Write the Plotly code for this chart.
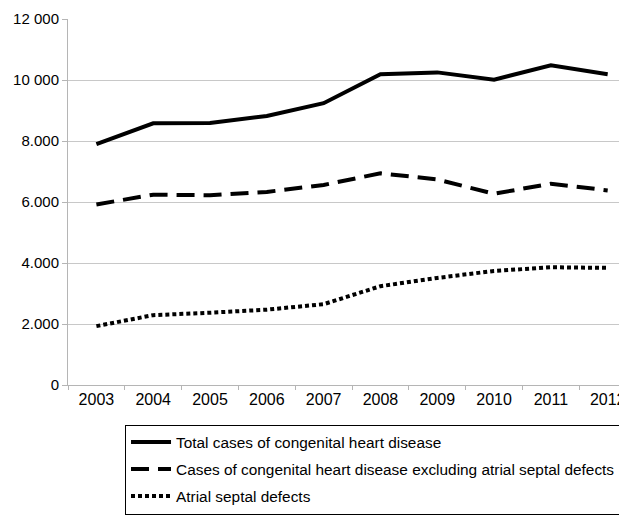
import plotly.graph_objects as go

years = ["2003", "2004", "2005", "2006", "2007", "2008", "2009", "2010", "2011", "2012"]
total_chd = [7900, 8580, 8590, 8820, 9240, 10190, 10250, 10010, 10480, 10190]
chd_excl_asd = [5920, 6240, 6220, 6330, 6560, 6940, 6740, 6270, 6600, 6380]
asd = [1930, 2290, 2370, 2470, 2650, 3240, 3510, 3740, 3860, 3840]

series_names = [
    "Total cases of congenital heart disease",
    "Cases of congenital heart disease excluding atrial septal defects",
    "Atrial septal defects",
]
y_tick_vals = [0, 2000, 4000, 6000, 8000, 10000, 12000]
y_tick_text = ["0", "2.000", "4.000", "6.000", "8.000", "10 000", "12 000"]

FONT = "Liberation Sans, Arial, sans-serif"

fig = go.Figure()
styles = ["solid", "18px,9px", "4px,3px"]
for i, (name, vals, dash) in enumerate(zip(series_names, [total_chd, chd_excl_asd, asd], styles)):
    fig.add_trace(go.Scatter(
        x=years, y=vals, mode="lines", name=name, legendgroup=f"g{i}",
        line=dict(color="black", width=4, dash=dash),
    ))

fig.update_layout(
    width=619, height=511,
    margin=dict(l=60, r=0, t=11, b=134),
    paper_bgcolor="white", plot_bgcolor="white",
    font=dict(family=FONT, size=15, color="black"),
    showlegend=True,
    legend=dict(
        x=0.102, y=-0.108, xanchor="left", yanchor="top",
        bordercolor="black", borderwidth=1,
        font=dict(family=FONT, size=15.4, color="black"),
        tracegroupgap=4, traceorder="grouped",
        itemwidth=40,
    ),
    xaxis=dict(
        type="category", range=[-0.5, 9.34],
        tickson="boundaries", ticks="outside", ticklen=4, tickcolor="#b5b5b5",
        showline=True, linecolor="#b5b5b5", linewidth=1,
        showgrid=False, tickfont=dict(size=16),
    ),
    yaxis=dict(
        range=[0, 12000], tickvals=y_tick_vals, ticktext=y_tick_text,
        ticks="outside", ticklen=5, tickcolor="#b5b5b5",
        showline=True, linecolor="#b5b5b5", linewidth=1,
        showgrid=True, gridcolor="#c8c8c8", gridwidth=1,
        zeroline=False, tickfont=dict(size=15),
    ),
)

fig.write_html("out.html")
